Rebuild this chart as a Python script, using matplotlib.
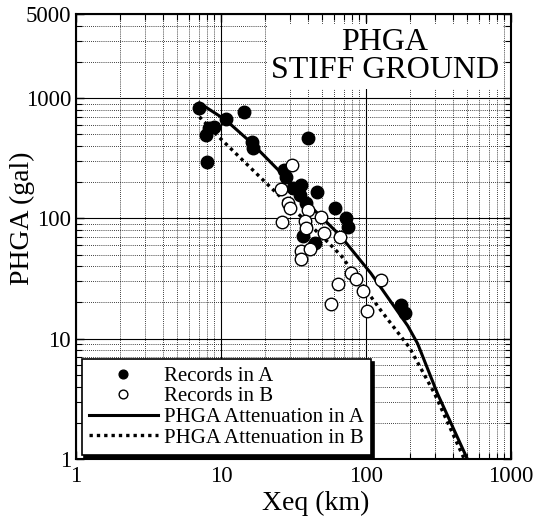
import numpy as np
import matplotlib.pyplot as plt
from matplotlib.ticker import LogLocator, NullFormatter, FixedLocator, FixedFormatter

plt.rcParams["font.family"] = ["Liberation Serif", "DejaVu Serif"]

# records in A (filled) and B (open), Xeq (km) vs PHGA (gal)
xa = [7.1, 8.3, 9.0, 7.9, 8.0, 10.8, 14.3, 16.3, 16.5, 40, 27, 27.9, 35.9, 31.6,
      46, 35.2, 38.8, 61, 72.9, 75.3, 37, 44.8, 174, 185]
ya = [826, 562, 573, 490, 292, 669, 764, 430, 383, 464, 251, 220, 191, 178,
      165, 155, 133, 121, 100, 85, 72, 63, 19.2, 16.5]

xb = [31, 25.8, 29.2, 29.7, 26.5, 40, 38.2, 49.2, 38.8, 51.6, 66.4, 35.9, 35.9,
      41.3, 79, 85.5, 64.3, 95, 126, 57.6, 102]
yb = [276, 175, 133, 121, 94, 117, 96, 102, 83, 76, 70, 54, 46,
      56, 35.5, 31.6, 28.7, 25, 31, 19.6, 17.1]

# attenuation curves
att_a_x = [7.1, 10.8, 16.3, 27, 38.8, 66.4, 108, 194, 227, 311, 500]
att_a_y = [910, 656, 422, 228, 136, 72, 35, 12.8, 9.1, 3.5, 1.0]
att_b_x = [7.1, 9.7, 22, 54.9, 67.4, 127, 200, 297, 476]
att_b_y = [700, 473, 181, 63, 49, 17.1, 8.4, 3.5, 1.0]

fig = plt.figure(figsize=(5.34, 5.23), dpi=100)
ax = fig.add_axes([76 / 534, 1 - 459 / 523, 435 / 534, 445 / 523])
ax.set_xscale("log")
ax.set_yscale("log")
ax.set_xlim(1, 1000)
ax.set_ylim(1, 5000)

ax.grid(True, which="major", color="black", linewidth=0.8, linestyle="-")
ax.grid(True, which="minor", color="black", linewidth=0.6, linestyle=(0, (1, 1.5)))
ax.set_axisbelow(True)

ax.plot(att_a_x, att_a_y, color="black", linewidth=2.2, zorder=3,
        label="PHGA Attenuation in A")
ax.plot(att_b_x, att_b_y, color="black", linewidth=2.4, linestyle=(0, (1, 1.2)),
        zorder=3, label="PHGA Attenuation in B")
ax.plot(xa, ya, "o", color="black", markersize=9, zorder=4, label="Records in A")
ax.plot(xb, yb, "o", markerfacecolor="white", markeredgecolor="black",
        markeredgewidth=1.0, markersize=9, zorder=4, label="Records in B")

ax.xaxis.set_major_locator(FixedLocator([1, 10, 100, 1000]))
ax.xaxis.set_major_formatter(FixedFormatter(["1", "10", "100", "1000"]))
ax.yaxis.set_major_locator(FixedLocator([1, 10, 100, 1000, 5000]))
ax.yaxis.set_major_formatter(FixedFormatter(["1", "10", "100", "1000", "5000"]))
ax.xaxis.set_minor_locator(LogLocator(base=10, subs=np.arange(2, 10)))
ax.yaxis.set_minor_locator(LogLocator(base=10, subs=np.arange(2, 10)))
ax.xaxis.set_minor_formatter(NullFormatter())
ax.yaxis.set_minor_formatter(NullFormatter())
ax.tick_params(which="both", direction="in", top=True, right=True, labelsize=16.5)
ax.tick_params(axis="x", which="major", pad=5)
ax.tick_params(which="major", length=6, width=1)
ax.tick_params(which="minor", length=4, width=0.8)
for s in ax.spines.values():
    s.set_linewidth(1.5)

ax.set_xlabel("Xeq (km)", fontsize=20)
ax.set_ylabel("PHGA (gal)", fontsize=20)
ax.xaxis.set_label_coords(0.55, -0.072)
ax.yaxis.set_label_coords(-0.094, 0.54)

ax.text(0.71, 0.905, "PHGA\nSTIFF GROUND", transform=ax.transAxes, fontsize=23,
        ha="center", va="center", multialignment="center", linespacing=0.95,
        bbox=dict(facecolor="white", edgecolor="none", pad=3), zorder=5)

h, l = ax.get_legend_handles_labels()
order = [2, 3, 0, 1]
leg = ax.legend([h[i] for i in order], [l[i] for i in order], loc="lower left",
                bbox_to_anchor=(0.013, 0.009), borderaxespad=0, fontsize=15,
                labelspacing=0.05, handlelength=3.3, handletextpad=0.3,
                borderpad=0.35, markerscale=0.7, fancybox=False, framealpha=1,
                edgecolor="black", shadow={"color": "black", "alpha": 1})
leg.get_frame().set_linewidth(1.2)
leg.set_zorder(6)

fig.savefig("out.png", dpi=100)
